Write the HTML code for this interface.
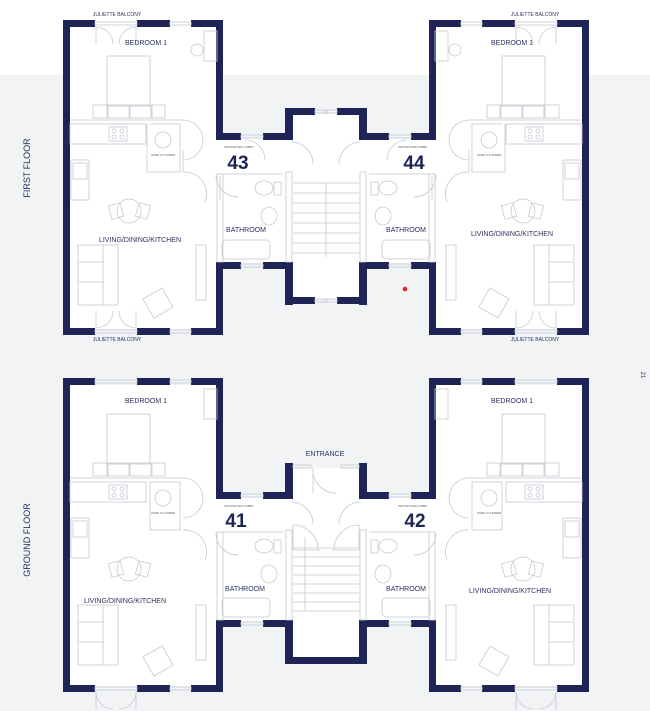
<!DOCTYPE html>
<html><head><meta charset="utf-8"><style>
html,body{margin:0;padding:0;background:#fff;}
svg{display:block;font-family:"Liberation Sans",sans-serif;}
</style></head><body>
<svg width="650" height="711" viewBox="0 0 650 711" xmlns="http://www.w3.org/2000/svg">
<rect x="0" y="0" width="650" height="711" fill="#f1f3f5"/>
<rect x="0" y="0" width="650" height="75" fill="#fff"/>
<defs>
<g id="half">
  <!-- FIRST FLOOR interiors -->
  <rect x="69" y="27" width="148" height="302" fill="#fff"/>
  <rect x="216" y="139" width="77" height="124" fill="#fff"/>
  <rect x="292" y="114" width="35" height="185" fill="#fff"/>
  <!-- walls -->
  <g fill="#1f2456">
    <rect x="63" y="20" width="7" height="315"/>
    <rect x="63" y="20" width="32" height="7"/>
    <rect x="137" y="20" width="33" height="7"/>
    <rect x="191" y="20" width="32" height="7"/>
    <rect x="216" y="20" width="7" height="120"/>
    <rect x="216" y="133" width="25" height="7"/>
    <rect x="263" y="133" width="30" height="7"/>
    <rect x="285" y="108" width="8" height="32"/>
    <rect x="285" y="108" width="30" height="7"/>
    <rect x="216" y="262" width="25" height="7"/>
    <rect x="263" y="262" width="30" height="7"/>
    <rect x="285" y="262" width="8" height="43"/>
    <rect x="285" y="297" width="30" height="7"/>
    <rect x="216" y="262" width="7" height="73"/>
    <rect x="63" y="328" width="32" height="7"/>
    <rect x="137" y="328" width="33" height="7"/>
    <rect x="191" y="328" width="32" height="7"/>
  </g>
  <g fill="none" stroke="#c5c9d2" stroke-width="0.8">
    <!-- windows -->
    <rect x="95" y="22" width="42" height="3"/><rect x="170" y="22" width="21" height="3"/>
    <rect x="95" y="330" width="42" height="3"/><rect x="170" y="330" width="21" height="3"/>
    <rect x="241" y="135" width="22" height="3"/><rect x="241" y="264" width="22" height="3"/>
    <rect x="315" y="110" width="12" height="3"/><rect x="315" y="299" width="12" height="3"/>
    <!-- doors -->
    <path d="M96 27 v17 M96 27 a17 17 0 0 1 17 17 M136 27 v17 M136 27 a17 17 0 0 0 -17 17"/>
    <path d="M96 328 v-17 M96 328 a17 17 0 0 0 17 -17 M136 328 v-17 M136 328 a17 17 0 0 1 -17 -17"/>
    <!-- bedroom furniture -->
    <rect x="107" y="56" width="43" height="50"/>
    <rect x="93" y="105" width="14" height="13"/><rect x="108" y="105" width="21" height="13"/><rect x="130" y="105" width="21" height="13"/><rect x="152" y="105" width="13" height="13"/>
    <rect x="204" y="31" width="13" height="30"/><circle cx="197" cy="50" r="6"/>
    <!-- partition lines -->
    <path d="M70 120 H183 M70 124 H146 M150 124 H180 V172 H147 V124"/>
    <rect x="70" y="124" width="76" height="20"/>
    <rect x="109" y="127" width="18" height="14"/><circle cx="114" cy="131" r="2"/><circle cx="122" cy="131" r="2"/><circle cx="114" cy="137" r="2"/><circle cx="122" cy="137" r="2"/>
    <rect x="71" y="160" width="18" height="40"/><rect x="73" y="163" width="14" height="16"/>
    <circle cx="163" cy="140" r="8"/>
    <path d="M183 120 a20 20 0 0 1 0 40 M183 172 a22 22 0 0 1 22 30 M183 150 V172"/>
    <!-- dining -->
    <circle cx="129" cy="211" r="12"/>
    <rect x="110" y="204" width="12" height="14" transform="rotate(-15 116 211)"/>
    <rect x="137" y="204" width="12" height="14" transform="rotate(15 143 211)"/>
    <!-- sofa -->
    <rect x="78" y="245" width="40" height="60"/><path d="M78 262 H103 V245 M103 262 V305 M78 282 H103"/>
    <rect x="196" y="245" width="10" height="55"/>
    <rect x="147" y="292" width="22" height="22" transform="rotate(-30 158 303)"/>
    <!-- bathroom -->
    <rect x="217" y="174" width="6" height="88"/><rect x="286" y="172" width="6" height="90"/>
    <rect x="222" y="240" width="48" height="19" rx="4"/>
    <ellipse cx="264" cy="188" rx="9" ry="7"/><rect x="274" y="182" width="7" height="13"/>
    <ellipse cx="269" cy="216" rx="8" ry="9"/>
    <path d="M223 174 H283 M245 140 a20 20 0 0 1 20 20"/>
    <path d="M216 175 a22 22 0 0 0 22 22 M291 142 a22 22 0 0 1 22 22 M220 176 V200"/>
    <!-- stairs -->
    <path d="M293 183 H327 M293 193 H327 M293 203 H327 M293 213 H327 M293 223 H327 M293 233 H327 M293 243 H327 M293 253 H327 M326 183 V257"/>

    <!-- GROUND FLOOR -->
  </g>
  <rect x="69" y="385" width="148" height="301" fill="#fff"/>
  <rect x="216" y="498" width="77" height="123" fill="#fff"/>
  <rect x="292" y="468" width="35" height="190" fill="#fff"/>
  <g fill="#1f2456">
    <rect x="63" y="378" width="7" height="314"/>
    <rect x="63" y="378" width="32" height="7"/>
    <rect x="137" y="378" width="33" height="7"/>
    <rect x="191" y="378" width="32" height="7"/>
    <rect x="216" y="378" width="7" height="121"/>
    <rect x="216" y="492" width="25" height="7"/>
    <rect x="263" y="492" width="30" height="7"/>
    <rect x="285" y="463" width="8" height="36"/>
    <rect x="216" y="620" width="25" height="7"/>
    <rect x="263" y="620" width="30" height="7"/>
    <rect x="285" y="620" width="8" height="44"/>
    <rect x="285" y="657" width="42" height="7"/>
    <rect x="216" y="620" width="7" height="72"/>
    <rect x="63" y="685" width="32" height="7"/>
    <rect x="137" y="685" width="33" height="7"/>
    <rect x="191" y="685" width="32" height="7"/>
  </g>
  <g fill="none" stroke="#c5c9d2" stroke-width="0.8">
    <rect x="95" y="380" width="42" height="3"/><rect x="170" y="380" width="21" height="3"/>
    <rect x="95" y="687" width="42" height="3"/><rect x="170" y="687" width="21" height="3"/>
    <rect x="241" y="494" width="22" height="3"/><rect x="241" y="622" width="22" height="3"/>
    <rect x="293" y="465" width="18" height="3"/>
    <path d="M96 692 v18 M96 692 a17 17 0 0 0 17 17 M136 692 v18 M136 692 a17 17 0 0 1 -17 17"/>
    <rect x="107" y="414" width="43" height="50"/>
    <rect x="93" y="463" width="14" height="13"/><rect x="108" y="463" width="21" height="13"/><rect x="130" y="463" width="21" height="13"/><rect x="152" y="463" width="13" height="13"/>
    <rect x="204" y="389" width="13" height="30"/>
    <path d="M70 478 H183"/>
    <rect x="70" y="482" width="76" height="20"/>
    <rect x="109" y="485" width="18" height="14"/><circle cx="114" cy="489" r="2"/><circle cx="122" cy="489" r="2"/><circle cx="114" cy="495" r="2"/><circle cx="122" cy="495" r="2"/>
    <rect x="150" y="482" width="30" height="48"/><circle cx="163" cy="498" r="8"/>
    <rect x="71" y="518" width="18" height="40"/><rect x="73" y="521" width="14" height="16"/>
    <path d="M183 478 a20 20 0 0 1 0 40 M183 530 a22 22 0 0 1 22 30"/>
    <circle cx="129" cy="569" r="12"/>
    <rect x="110" y="562" width="12" height="14" transform="rotate(-15 116 569)"/>
    <rect x="137" y="562" width="12" height="14" transform="rotate(15 143 569)"/>
    <rect x="78" y="605" width="40" height="60"/><path d="M78 622 H103 V605 M103 622 V665 M78 642 H103"/>
    <rect x="196" y="605" width="10" height="55"/>
    <rect x="147" y="650" width="22" height="22" transform="rotate(-30 158 661)"/>
    <rect x="217" y="532" width="6" height="88"/><rect x="286" y="530" width="6" height="90"/>
    <rect x="222" y="598" width="48" height="19" rx="4"/>
    <ellipse cx="264" cy="546" rx="9" ry="7"/><rect x="274" y="540" width="7" height="13"/>
    <ellipse cx="269" cy="574" rx="8" ry="9"/>
    <path d="M223 532 H283 M216 533 a22 22 0 0 0 22 22 M291 502 a22 22 0 0 1 22 22"/>
    <path d="M293 548 H327 M293 557 H327 M293 566 H327 M293 575 H327 M293 584 H327 M293 593 H327 M293 602 H327 M293 611 H327"/>
    <path d="M293 525 a25 25 0 0 1 25 25 M293 525 V550 H320"/>
  </g>
</g>
</defs>
<use href="#half"/>
<use href="#half" transform="matrix(-1,0,0,1,652,0)"/>
<g fill="none" stroke="#c5c9d2" stroke-width="0.8">
  <path d="M313 468 V493 M313 468 a23 23 0 0 0 23 25 M305 537 V611"/>
</g>
<circle cx="405" cy="289" r="2.3" fill="#e0242b"/>
<g fill="#2b3063" text-anchor="middle">
  <g font-size="5">
    <text x="117" y="16">JULIETTE BALCONY</text><text x="117" y="341">JULIETTE BALCONY</text>
    <text x="535" y="16">JULIETTE BALCONY</text><text x="535" y="341">JULIETTE BALCONY</text>
  </g>
  <g font-size="3" fill="#555">
    <text x="239" y="148">PROTECTED LOBBY</text><text x="413" y="148">PROTECTED LOBBY</text>
    <text x="239" y="507">PROTECTED LOBBY</text><text x="413" y="507">PROTECTED LOBBY</text>
    <text x="163" y="156">ASHP CYLINDER</text><text x="489" y="156">ASHP CYLINDER</text>
    <text x="163" y="514">ASHP CYLINDER</text><text x="489" y="514">ASHP CYLINDER</text>
  </g>
  <g font-size="7">
    <text x="146" y="45">BEDROOM 1</text><text x="512" y="45">BEDROOM 1</text>
    <text x="146" y="403">BEDROOM 1</text><text x="512" y="403">BEDROOM 1</text>
    <text x="140" y="242">LIVING/DINING/KITCHEN</text><text x="512" y="236">LIVING/DINING/KITCHEN</text>
    <text x="125" y="603">LIVING/DINING/KITCHEN</text><text x="510" y="593">LIVING/DINING/KITCHEN</text>
    <text x="246" y="232">BATHROOM</text><text x="406" y="232">BATHROOM</text>
    <text x="245" y="591">BATHROOM</text><text x="406" y="591">BATHROOM</text>
    <text x="325" y="456">ENTRANCE</text>
  </g>
  <g font-size="19" font-weight="bold" fill="#1f2456">
    <text x="238" y="169">43</text><text x="414" y="169">44</text>
    <text x="236" y="527">41</text><text x="415" y="527">42</text>
  </g>
  <g font-size="9">
    <text transform="translate(30 168) rotate(-90)">FIRST FLOOR</text>
    <text transform="translate(30 540) rotate(-90)">GROUND FLOOR</text>
    <text font-size="6" transform="translate(641 375) rotate(90)">21</text>
  </g>
</g>
</svg>
</body></html>
